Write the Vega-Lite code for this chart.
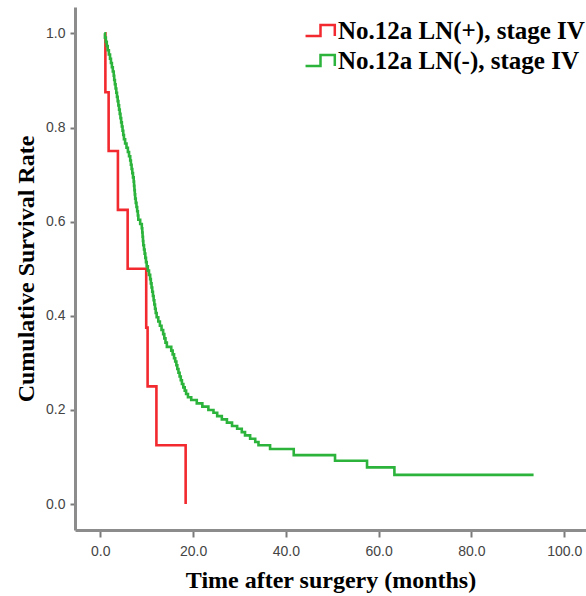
{
  "$schema": "https://vega.github.io/schema/vega-lite/v6.json",
  "autosize": {"type": "none"},
  "width": 511,
  "height": 523,
  "padding": {"left": 75, "top": 7, "right": 0, "bottom": 66},
  "background": "white",
  "config": {"view": {"stroke": null}},
  "data": {"values": [
    {"g": "No.12a LN(+), stage IV", "t": 1.05, "s": 1.0},
    {"g": "No.12a LN(+), stage IV", "t": 1.1, "s": 0.875},
    {"g": "No.12a LN(+), stage IV", "t": 1.8, "s": 0.75},
    {"g": "No.12a LN(+), stage IV", "t": 3.8, "s": 0.625},
    {"g": "No.12a LN(+), stage IV", "t": 5.9, "s": 0.5},
    {"g": "No.12a LN(+), stage IV", "t": 9.9, "s": 0.375},
    {"g": "No.12a LN(+), stage IV", "t": 10.2, "s": 0.25},
    {"g": "No.12a LN(+), stage IV", "t": 12.1, "s": 0.125},
    {"g": "No.12a LN(+), stage IV", "t": 18.4, "s": 0.0},
    {"g": "No.12a LN(-), stage IV", "t": 0.86, "s": 1.0},
    {"g": "No.12a LN(-), stage IV", "t": 1.0, "s": 0.991},
    {"g": "No.12a LN(-), stage IV", "t": 1.2, "s": 0.982},
    {"g": "No.12a LN(-), stage IV", "t": 1.4, "s": 0.973},
    {"g": "No.12a LN(-), stage IV", "t": 1.6, "s": 0.964},
    {"g": "No.12a LN(-), stage IV", "t": 1.85, "s": 0.955},
    {"g": "No.12a LN(-), stage IV", "t": 2.1, "s": 0.946},
    {"g": "No.12a LN(-), stage IV", "t": 2.3, "s": 0.937},
    {"g": "No.12a LN(-), stage IV", "t": 2.5, "s": 0.928},
    {"g": "No.12a LN(-), stage IV", "t": 2.7, "s": 0.919},
    {"g": "No.12a LN(-), stage IV", "t": 2.9, "s": 0.910},
    {"g": "No.12a LN(-), stage IV", "t": 3.0, "s": 0.901},
    {"g": "No.12a LN(-), stage IV", "t": 3.15, "s": 0.892},
    {"g": "No.12a LN(-), stage IV", "t": 3.3, "s": 0.883},
    {"g": "No.12a LN(-), stage IV", "t": 3.45, "s": 0.874},
    {"g": "No.12a LN(-), stage IV", "t": 3.6, "s": 0.865},
    {"g": "No.12a LN(-), stage IV", "t": 3.75, "s": 0.856},
    {"g": "No.12a LN(-), stage IV", "t": 3.9, "s": 0.847},
    {"g": "No.12a LN(-), stage IV", "t": 4.05, "s": 0.838},
    {"g": "No.12a LN(-), stage IV", "t": 4.2, "s": 0.829},
    {"g": "No.12a LN(-), stage IV", "t": 4.35, "s": 0.820},
    {"g": "No.12a LN(-), stage IV", "t": 4.5, "s": 0.811},
    {"g": "No.12a LN(-), stage IV", "t": 4.65, "s": 0.802},
    {"g": "No.12a LN(-), stage IV", "t": 4.8, "s": 0.793},
    {"g": "No.12a LN(-), stage IV", "t": 4.95, "s": 0.784},
    {"g": "No.12a LN(-), stage IV", "t": 5.1, "s": 0.775},
    {"g": "No.12a LN(-), stage IV", "t": 5.35, "s": 0.766},
    {"g": "No.12a LN(-), stage IV", "t": 5.65, "s": 0.757},
    {"g": "No.12a LN(-), stage IV", "t": 5.95, "s": 0.748},
    {"g": "No.12a LN(-), stage IV", "t": 6.2, "s": 0.739},
    {"g": "No.12a LN(-), stage IV", "t": 6.45, "s": 0.730},
    {"g": "No.12a LN(-), stage IV", "t": 6.6, "s": 0.721},
    {"g": "No.12a LN(-), stage IV", "t": 6.75, "s": 0.712},
    {"g": "No.12a LN(-), stage IV", "t": 6.9, "s": 0.703},
    {"g": "No.12a LN(-), stage IV", "t": 7.05, "s": 0.694},
    {"g": "No.12a LN(-), stage IV", "t": 7.2, "s": 0.685},
    {"g": "No.12a LN(-), stage IV", "t": 7.28, "s": 0.676},
    {"g": "No.12a LN(-), stage IV", "t": 7.36, "s": 0.667},
    {"g": "No.12a LN(-), stage IV", "t": 7.44, "s": 0.658},
    {"g": "No.12a LN(-), stage IV", "t": 7.52, "s": 0.649},
    {"g": "No.12a LN(-), stage IV", "t": 7.65, "s": 0.640},
    {"g": "No.12a LN(-), stage IV", "t": 7.8, "s": 0.631},
    {"g": "No.12a LN(-), stage IV", "t": 7.95, "s": 0.622},
    {"g": "No.12a LN(-), stage IV", "t": 8.1, "s": 0.613},
    {"g": "No.12a LN(-), stage IV", "t": 8.2, "s": 0.604},
    {"g": "No.12a LN(-), stage IV", "t": 8.6, "s": 0.595},
    {"g": "No.12a LN(-), stage IV", "t": 8.95, "s": 0.586},
    {"g": "No.12a LN(-), stage IV", "t": 9.05, "s": 0.577},
    {"g": "No.12a LN(-), stage IV", "t": 9.12, "s": 0.568},
    {"g": "No.12a LN(-), stage IV", "t": 9.2, "s": 0.559},
    {"g": "No.12a LN(-), stage IV", "t": 9.28, "s": 0.550},
    {"g": "No.12a LN(-), stage IV", "t": 9.42, "s": 0.541},
    {"g": "No.12a LN(-), stage IV", "t": 9.56, "s": 0.532},
    {"g": "No.12a LN(-), stage IV", "t": 9.7, "s": 0.523},
    {"g": "No.12a LN(-), stage IV", "t": 9.85, "s": 0.514},
    {"g": "No.12a LN(-), stage IV", "t": 10.0, "s": 0.505},
    {"g": "No.12a LN(-), stage IV", "t": 10.25, "s": 0.496},
    {"g": "No.12a LN(-), stage IV", "t": 10.5, "s": 0.487},
    {"g": "No.12a LN(-), stage IV", "t": 10.75, "s": 0.478},
    {"g": "No.12a LN(-), stage IV", "t": 10.9, "s": 0.469},
    {"g": "No.12a LN(-), stage IV", "t": 11.05, "s": 0.460},
    {"g": "No.12a LN(-), stage IV", "t": 11.2, "s": 0.451},
    {"g": "No.12a LN(-), stage IV", "t": 11.35, "s": 0.442},
    {"g": "No.12a LN(-), stage IV", "t": 11.5, "s": 0.433},
    {"g": "No.12a LN(-), stage IV", "t": 11.65, "s": 0.424},
    {"g": "No.12a LN(-), stage IV", "t": 11.8, "s": 0.415},
    {"g": "No.12a LN(-), stage IV", "t": 11.95, "s": 0.406},
    {"g": "No.12a LN(-), stage IV", "t": 12.15, "s": 0.397},
    {"g": "No.12a LN(-), stage IV", "t": 12.5, "s": 0.388},
    {"g": "No.12a LN(-), stage IV", "t": 12.85, "s": 0.379},
    {"g": "No.12a LN(-), stage IV", "t": 13.2, "s": 0.370},
    {"g": "No.12a LN(-), stage IV", "t": 13.55, "s": 0.361},
    {"g": "No.12a LN(-), stage IV", "t": 13.8, "s": 0.352},
    {"g": "No.12a LN(-), stage IV", "t": 14.05, "s": 0.343},
    {"g": "No.12a LN(-), stage IV", "t": 14.35, "s": 0.334},
    {"g": "No.12a LN(-), stage IV", "t": 15.3, "s": 0.326},
    {"g": "No.12a LN(-), stage IV", "t": 15.6, "s": 0.318},
    {"g": "No.12a LN(-), stage IV", "t": 15.9, "s": 0.310},
    {"g": "No.12a LN(-), stage IV", "t": 16.15, "s": 0.303},
    {"g": "No.12a LN(-), stage IV", "t": 16.4, "s": 0.295},
    {"g": "No.12a LN(-), stage IV", "t": 16.6, "s": 0.287},
    {"g": "No.12a LN(-), stage IV", "t": 16.85, "s": 0.279},
    {"g": "No.12a LN(-), stage IV", "t": 17.1, "s": 0.271},
    {"g": "No.12a LN(-), stage IV", "t": 17.35, "s": 0.263},
    {"g": "No.12a LN(-), stage IV", "t": 17.6, "s": 0.255},
    {"g": "No.12a LN(-), stage IV", "t": 17.9, "s": 0.248},
    {"g": "No.12a LN(-), stage IV", "t": 18.2, "s": 0.241},
    {"g": "No.12a LN(-), stage IV", "t": 18.5, "s": 0.234},
    {"g": "No.12a LN(-), stage IV", "t": 18.9, "s": 0.227},
    {"g": "No.12a LN(-), stage IV", "t": 19.6, "s": 0.221},
    {"g": "No.12a LN(-), stage IV", "t": 20.8, "s": 0.214},
    {"g": "No.12a LN(-), stage IV", "t": 22.0, "s": 0.207},
    {"g": "No.12a LN(-), stage IV", "t": 23.3, "s": 0.200},
    {"g": "No.12a LN(-), stage IV", "t": 24.4, "s": 0.194},
    {"g": "No.12a LN(-), stage IV", "t": 25.2, "s": 0.187},
    {"g": "No.12a LN(-), stage IV", "t": 26.2, "s": 0.180},
    {"g": "No.12a LN(-), stage IV", "t": 27.3, "s": 0.173},
    {"g": "No.12a LN(-), stage IV", "t": 28.4, "s": 0.166},
    {"g": "No.12a LN(-), stage IV", "t": 29.5, "s": 0.160},
    {"g": "No.12a LN(-), stage IV", "t": 30.5, "s": 0.153},
    {"g": "No.12a LN(-), stage IV", "t": 31.2, "s": 0.146},
    {"g": "No.12a LN(-), stage IV", "t": 32.3, "s": 0.139},
    {"g": "No.12a LN(-), stage IV", "t": 33.4, "s": 0.132},
    {"g": "No.12a LN(-), stage IV", "t": 34.1, "s": 0.125},
    {"g": "No.12a LN(-), stage IV", "t": 36.6, "s": 0.117},
    {"g": "No.12a LN(-), stage IV", "t": 41.7, "s": 0.104},
    {"g": "No.12a LN(-), stage IV", "t": 50.6, "s": 0.092},
    {"g": "No.12a LN(-), stage IV", "t": 57.5, "s": 0.078},
    {"g": "No.12a LN(-), stage IV", "t": 63.4, "s": 0.062},
    {"g": "No.12a LN(-), stage IV", "t": 93.4, "s": 0.062}
  ]},
  "mark": {"type": "line", "interpolate": "step-after", "strokeWidth": 2.6},
  "encoding": {
    "x": {
      "field": "t", "type": "quantitative",
      "scale": {"domain": [-5.45, 104.7], "nice": false, "zero": false},
      "axis": {
        "values": [0, 20, 40, 60, 80, 100], "format": ".1f", "grid": false,
        "title": "Time after surgery (months)",
        "titleFont": "Liberation Serif", "titleFontWeight": "bold", "titleFontSize": 24, "titleColor": "black",
        "titlePadding": 10,
        "labelFont": "Liberation Sans", "labelFontSize": 14, "labelColor": "#444444", "labelPadding": 7,
        "domainColor": "#8c8c8c", "domainWidth": 3,
        "tickColor": "#7a7a7a", "tickWidth": 2, "tickSize": 7
      }
    },
    "y": {
      "field": "s", "type": "quantitative",
      "scale": {"domain": [-0.055, 1.056], "nice": false, "zero": false},
      "axis": {
        "values": [0, 0.2, 0.4, 0.6, 0.8, 1.0], "format": ".1f", "grid": false,
        "title": "Cumulative Survival Rate",
        "titleFont": "Liberation Serif", "titleFontWeight": "bold", "titleFontSize": 24, "titleColor": "black",
        "titlePadding": 7,
        "labelFont": "Liberation Sans", "labelFontSize": 14, "labelColor": "#444444", "labelPadding": 5,
        "domainColor": "#8c8c8c", "domainWidth": 3,
        "tickColor": "#7a7a7a", "tickWidth": 2, "tickSize": 5
      }
    },
    "color": {
      "field": "g", "type": "nominal",
      "scale": {"domain": ["No.12a LN(+), stage IV", "No.12a LN(-), stage IV"], "range": ["#f2292e", "#2bb33b"]},
      "legend": {
        "title": null, "orient": "none", "legendX": 231, "legendY": 9,
        "symbolType": "M -1.15 0.42 H 0 V -0.42 H 1.1 V 0.42",
        "symbolSize": 676, "symbolStrokeWidth": 2.5,
        "labelFont": "Liberation Serif", "labelFontWeight": "bold", "labelFontSize": 25, "labelColor": "black",
        "labelOffset": 3, "rowPadding": 2, "padding": 0, "labelLimit": 400
      }
    }
  }
}
